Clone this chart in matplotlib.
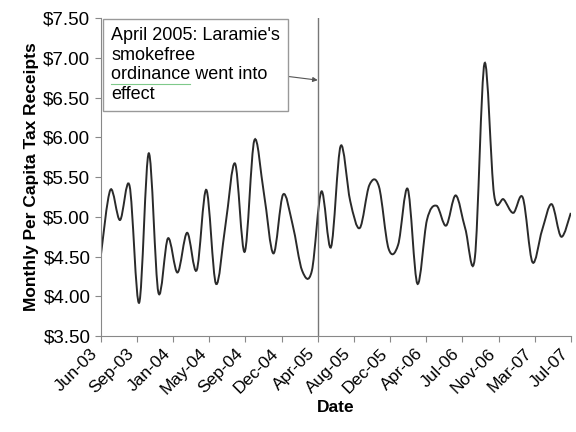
import numpy as np
import matplotlib
matplotlib.use("Agg")
import matplotlib.pyplot as plt
from matplotlib.path import Path
from matplotlib.patches import PathPatch
from matplotlib.lines import Line2D

plt.rcParams["font.family"] = ["Liberation Sans", "DejaVu Sans"]

# monthly per capita tax receipts, Jun-03 .. Jul-07 (50 months)
receipts = [4.51, 5.34, 4.96, 5.39, 3.92, 5.80, 4.05, 4.73, 4.30, 4.80,
            4.33, 5.34, 4.16, 4.90, 5.67, 4.56, 5.96, 5.30, 4.54, 5.28,
            4.90, 4.32, 4.32, 5.32, 4.62, 5.89, 5.20, 4.86, 5.40, 5.38,
            4.60, 4.65, 5.35, 4.16, 4.96, 5.14, 4.89, 5.27, 4.85, 4.49,
            6.93, 5.28, 5.22, 5.05, 5.24, 4.43, 4.83, 5.16, 4.75, 5.05]
tick_labels = ["Jun-03", "Sep-03", "Jan-04", "May-04", "Sep-04", "Dec-04",
               "Apr-05", "Aug-05", "Dec-05", "Apr-06", "Jul-06", "Nov-06",
               "Mar-07", "Jul-07"]
yticks = [3.5, 4.0, 4.5, 5.0, 5.5, 6.0, 6.5, 7.0, 7.5]
event_label = "Apr-05"
note = "April 2005: Laramie's\nsmokefree\nordinance went into\neffect"


def smooth_path(xs, ys):
    # excel-like smoothed line: cubic bezier segments, catmull-rom tangents
    pts = np.column_stack([xs, ys])
    verts = [pts[0]]
    codes = [Path.MOVETO]
    n = len(pts)
    for i in range(n - 1):
        p0 = pts[max(i - 1, 0)]
        p1 = pts[i]
        p2 = pts[i + 1]
        p3 = pts[min(i + 2, n - 1)]
        c1 = p1 + (p2 - p0) / 6.0
        c2 = p2 - (p3 - p1) / 6.0
        verts += [c1, c2, p2]
        codes += [Path.CURVE4] * 3
    return Path(verts, codes)


x = np.arange(len(receipts))
tick_pos = np.linspace(0, len(receipts) - 1, len(tick_labels))

fig = plt.figure(figsize=(5.76, 4.32), dpi=100)
ax = fig.add_axes([0.175, 0.222, 0.816, 0.736])

ax.add_patch(PathPatch(smooth_path(x, receipts), fill=False,
                       edgecolor="#2a2a2a", lw=1.4))

ax.set_xlim(0, len(receipts) - 1)
ax.set_ylim(yticks[0], yticks[-1])

ax.set_yticks(yticks)
ax.set_yticklabels(["${:.2f}".format(v) for v in yticks], fontsize=13.5)
ax.set_xticks(tick_pos)
ax.set_xticklabels(tick_labels, rotation=45, ha="right", va="top",
                   fontsize=12.5)

for s in ["top", "right"]:
    ax.spines[s].set_visible(False)
for s in ["left", "bottom"]:
    ax.spines[s].set_color("#888888")
ax.tick_params(axis="both", direction="out", color="#888888", length=4)
ax.tick_params(axis="x", pad=3)

ax.set_xlabel("Date", fontsize=12.5, fontweight="bold", labelpad=2)
ax.set_ylabel("Monthly Per Capita Tax Receipts", fontsize=12.5,
              fontweight="bold", labelpad=3)

ev_x = tick_pos[tick_labels.index(event_label)]
ax.axvline(ev_x, color="#777777", lw=1)

ax.annotate(note, xy=(ev_x, 6.72), xycoords="data",
            xytext=(111 / 576, 1 - 27 / 432), textcoords="figure fraction",
            ha="left", va="top", fontsize=13, linespacing=1.2,
            bbox=dict(boxstyle="square,pad=0.45", fc="white",
                      ec="#999999", lw=1),
            arrowprops=dict(arrowstyle="-|>", color="#555555", lw=0.8,
                            mutation_scale=7, shrinkA=0, shrinkB=0))

# spell-check squiggle under "ordinance", as in the source screenshot
fig.add_artist(Line2D([111 / 576, 190 / 576], [1 - 84 / 432, 1 - 84 / 432],
                      color="#7fc98a", lw=0.8))

fig.savefig("out.png", dpi=100)
